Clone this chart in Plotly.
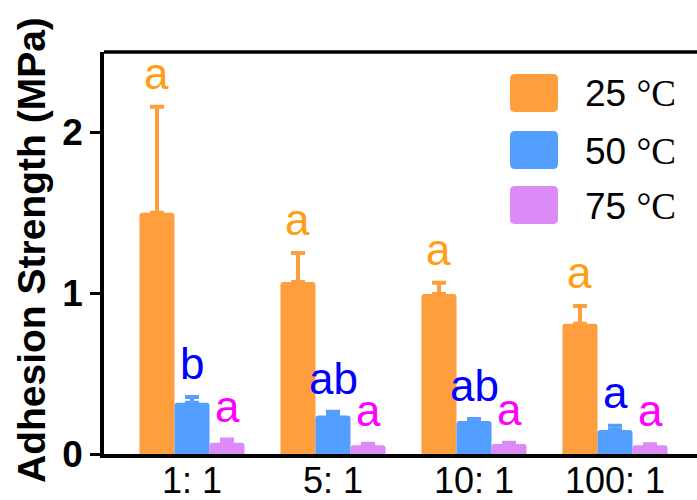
import plotly.graph_objects as go

categories = ["1: 1", "5: 1", "10: 1", "100: 1"]
series_names = ["25 ℃", "50 ℃", "75 ℃"]
vals_25 = [1.50, 1.07, 0.995, 0.81]
errs_25 = [0.66, 0.18, 0.07, 0.11]
vals_50 = [0.318, 0.24, 0.205, 0.15]
errs_50 = [0.037, 0.022, 0.012, 0.026]
vals_75 = [0.07, 0.055, 0.062, 0.055]
errs_75 = [0.02, 0.008, 0.008, 0.006]
letters_25 = ["a", "a", "a", "a"]
letters_50 = ["b", "ab", "ab", "a"]
letters_75 = ["a", "a", "a", "a"]
y_ticks = [0, 1, 2]

bar_colors = ["#FF9E3D", "#529FFF", "#DC8AF5"]
letter_colors = ["#FF9D14", "#0000FF", "#FF00FF"]

W, H = 697, 500
ML, MT, MB, MR = 104, 52, 46, 0
PW = W - ML - MR
PH = H - MT - MB
BARGAP = 0.255
FONT = "Arial, Liberation Sans, sans-serif"

fig = go.Figure()
all_vals = [vals_25, vals_50, vals_75]
all_errs = [errs_25, errs_50, errs_75]
all_letters = [letters_25, letters_50, letters_75]
for k in range(3):
    fig.add_trace(go.Bar(
        x=categories, y=all_vals[k], name=series_names[k],
        marker=dict(color=bar_colors[k], line=dict(width=0), cornerradius=3),
        error_y=dict(type="data", symmetric=False, array=all_errs[k],
                     arrayminus=[0] * len(categories),
                     color=bar_colors[k], thickness=4, width=7),
        showlegend=False,
    ))

# letters above the error bars
bar_w = (1 - BARGAP) / 3
for k in range(3):
    off = (k - 1) * bar_w
    for i, lab in enumerate(all_letters[k]):
        fig.add_annotation(
            x=i + off, y=all_vals[k][i] + all_errs[k][i], xref="x", yref="y",
            text=lab, showarrow=False, yanchor="bottom", xanchor="center",
            yshift=7, font=dict(family=FONT, size=44, color=letter_colors[k]),
        )

# x range so category spacing matches the reference
px_per_cat = 141
x0 = -88 / px_per_cat
x1 = x0 + PW / px_per_cat

def px_to_paper_x(px):
    return (px - ML) / PW

def px_to_paper_y(py):
    return (H - MB - py) / PH

# y title
fig.add_annotation(
    x=px_to_paper_x(31), y=px_to_paper_y(250), xref="paper", yref="paper",
    text="<b>Adhesion Strength (MPa)</b>", textangle=-90, showarrow=False,
    xanchor="center", yanchor="middle",
    font=dict(family=FONT, size=39, color="black"),
)

# manual legend
def rounded_rect(xa, ya, xb, yb, r):
    rx = r / PW
    ry = r / PH
    return (f"M {xa+rx},{ya} L {xb-rx},{ya} Q {xb},{ya} {xb},{ya-ry} "
            f"L {xb},{yb+ry} Q {xb},{yb} {xb-rx},{yb} L {xa+rx},{yb} "
            f"Q {xa},{yb} {xa},{yb+ry} L {xa},{ya-ry} Q {xa},{ya} {xa+rx},{ya} Z")

row_tops = [74, 131, 186]
for k in range(3):
    top = row_tops[k]
    fig.add_shape(
        type="path", xref="paper", yref="paper",
        path=rounded_rect(px_to_paper_x(510), px_to_paper_y(top),
                          px_to_paper_x(558), px_to_paper_y(top + 38), 5),
        fillcolor=bar_colors[k], line=dict(width=0),
    )
    num, unit = series_names[k].split(" ")
    fig.add_annotation(
        x=px_to_paper_x(583), y=px_to_paper_y(top + 20), xref="paper", yref="paper",
        text=f"{num} <span style='font-family:Liberation Serif, Times New Roman, serif'>°C</span>",
        showarrow=False, xanchor="left", yanchor="middle",
        font=dict(family=FONT, size=37, color="black"),
    )

# top frame line
fig.add_shape(type="line", xref="paper", yref="paper", x0=0, x1=1, y0=1, y1=1,
              line=dict(color="black", width=3.5))

fig.update_layout(
    width=W, height=H,
    margin=dict(l=ML, r=MR, t=MT, b=MB, pad=0),
    paper_bgcolor="white", plot_bgcolor="white",
    barmode="group", bargap=BARGAP, bargroupgap=0,
    font=dict(family=FONT, color="black"),
    xaxis=dict(
        range=[x0, x1], showline=True, linecolor="black", linewidth=3.5,
        ticks="", showgrid=False, zeroline=False, automargin=False,
        ticklabelstandoff=-8,
        tickfont=dict(family=FONT, size=36, color="black"),
    ),
    yaxis=dict(
        range=[0, 2.5], tickvals=y_ticks, ticktext=[f"<b>{v}</b>" for v in y_ticks],
        showline=True, linecolor="black", linewidth=3.5, automargin=False,
        ticks="outside", ticklen=10, tickwidth=3, tickcolor="black",
        showgrid=False, zeroline=False,
        tickfont=dict(family=FONT, size=37, color="black"),
    ),
)

fig.write_html("out.html")
